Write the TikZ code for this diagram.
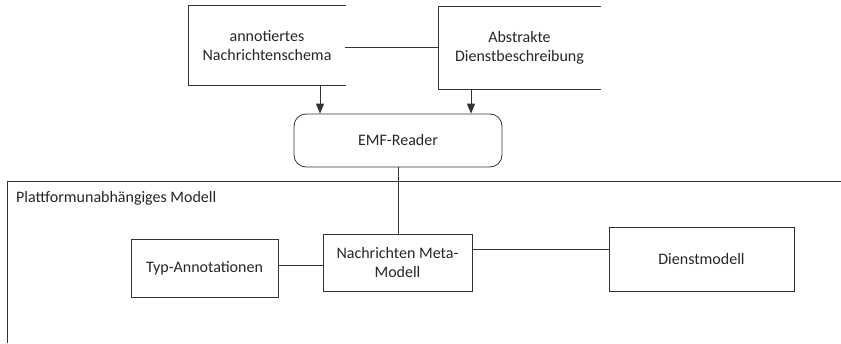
\documentclass[tikz,border=0pt]{standalone}
\usepackage{fontspec}
\setmainfont{Carlito}
\usetikzlibrary{arrows.meta}
\begin{document}
\begin{tikzpicture}[x=1pt,y=-1pt,
  every node/.style={font=\fontsize{16}{19}\selectfont, text=black!85, align=center, inner sep=0pt},
  line/.style={draw=black!80, line width=0.8pt},
  arr/.style={line, -{Triangle[length=10pt,width=8pt]}},
  openbox/.style={line, line cap=rect},
  plainbox/.style={line},
  reader/.style={line, rounded corners=12pt}
]
\useasboundingbox (0,0) rectangle (841,343);

% source boxes at the top (drawn open on their right side)
\node[minimum width=156pt, minimum height=79pt] (schema) at (267,45.5) {annotiertes\\Nachrichtenschema};
\node[minimum width=161pt, minimum height=82pt] (abstr) at (519.5,48) {Abstrakte\\Dienstbeschreibung};
\draw[openbox] (schema.north east) -- (schema.north west) -- (schema.south west) -- (schema.south east);
\draw[openbox] (abstr.north east) -- (abstr.north west) -- (abstr.south west) -- (abstr.south east);

% reader
\node[reader, minimum width=208pt, minimum height=53pt] (emf) at (398,140.5) {EMF-Reader};

% platform-independent model frame
\draw[line] (7,343) -- (7,181) -- (841,181);
\node[anchor=west] (pimlabel) at (16,198) {Plattformunabhängiges Modell};

% model elements
\node[plainbox, minimum width=147pt, minimum height=58pt] (typ) at (204.5,268) {Typ-Annotationen};
\node[plainbox, minimum width=149pt, minimum height=57pt] (meta) at (397.5,262.5) {Nachrichten Meta-\\Modell};
\node[plainbox, minimum width=185pt, minimum height=64pt] (dienst) at (701.5,259) {Dienstmodell};

% connectors
\draw[line] ([yshift=-1.5pt]schema.east) -- ([yshift=-1.5pt]schema.east -| abstr.west);
\draw[arr] ([xshift=53pt]schema.south) -- ([xshift=53pt]schema.south |- emf.north);
\draw[arr] ([xshift=-48.5pt]abstr.south) -- ([xshift=-48.5pt]abstr.south |- emf.north);
\draw[line] (emf.south) -- (emf.south |- meta.north);
\draw[line] ([yshift=3pt]typ.east) -- ([yshift=3pt]typ.east -| meta.west);
\draw[line] ([yshift=13.5pt]meta.east) -- ([yshift=13.5pt]meta.east -| dienst.west);
\end{tikzpicture}
\end{document}
